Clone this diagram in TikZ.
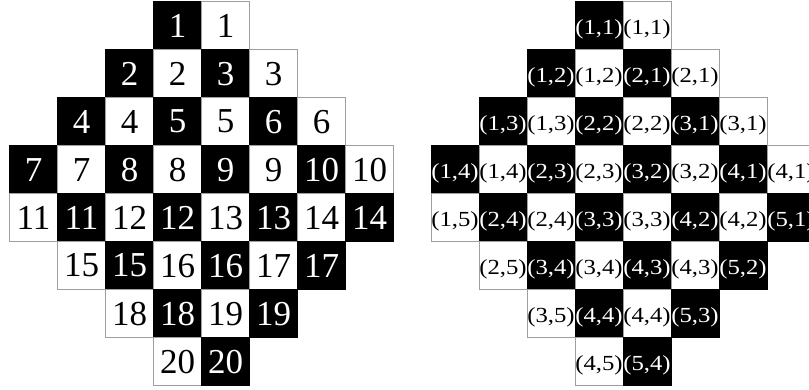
\documentclass[tikz,border=0pt]{standalone}
\usepackage{fontspec}
\setmainfont{Liberation Serif}
\tikzset{
  cellbase/.style={minimum width=48pt, minimum height=48pt, inner sep=0pt, outer sep=0pt, line width=0.8pt},
  cellW/.style={cellbase, draw=gray!75, fill=white, text=black},
  cellB/.style={cellbase, draw=black, fill=black, text=white},
  bigtxt/.style={font=\fontsize{35}{40}\selectfont},
  smalltxt/.style={font=\fontsize{21.5}{24}\selectfont, text height=18pt, text depth=0pt},
}
\newcommand\leftrow[3]{%
  \foreach \n [count=\i from 0] in {#3}{%
    \pgfmathtruncatemacro\cc{#2+\i}%
    \pgfmathtruncatemacro\pp{mod(#1+\cc,2)}%
    \ifnum\pp=1 \def\sty{cellB}\else\def\sty{cellW}\fi
    \node[\sty,bigtxt] (L-#1-\cc) at ({9.6+48*\cc+24},{1.6+48*#1+24}) {\n};
  }}
\newcommand\rightrow[3]{%
  \foreach \a/\b [count=\i from 0] in {#3}{%
    \pgfmathtruncatemacro\cc{#2+\i}%
    \pgfmathtruncatemacro\pp{mod(#1+\cc,2)}%
    \ifnum\pp=1 \def\sty{cellB}\else\def\sty{cellW}\fi
    \node[\sty,smalltxt] (R-#1-\cc) at ({431+48*\cc+24},{1.6+48*#1+24}) {\scalebox{1.15}[1]{(\a,\b)}};
  }}
\begin{document}
\begin{tikzpicture}[x=1pt,y=-1pt]
\path[use as bounding box] (0,0) rectangle (809,390);
\clip (0,0) rectangle (809,390);
% left grid
\leftrow{0}{3}{1,1}
\leftrow{1}{2}{2,2,3,3}
\leftrow{2}{1}{4,4,5,5,6,6}
\leftrow{3}{0}{7,7,8,8,9,9,10,10}
\leftrow{4}{0}{11,11,12,12,13,13,14,14}
\leftrow{5}{1}{15,15,16,16,17,17}
\leftrow{6}{2}{18,18,19,19}
\leftrow{7}{3}{20,20}
% right grid
\rightrow{0}{3}{1/1,1/1}
\rightrow{1}{2}{1/2,1/2,2/1,2/1}
\rightrow{2}{1}{1/3,1/3,2/2,2/2,3/1,3/1}
\rightrow{3}{0}{1/4,1/4,2/3,2/3,3/2,3/2,4/1,4/1}
\rightrow{4}{0}{1/5,2/4,2/4,3/3,3/3,4/2,4/2,5/1}
\rightrow{5}{1}{2/5,3/4,3/4,4/3,4/3,5/2}
\rightrow{6}{2}{3/5,4/4,4/4,5/3}
\rightrow{7}{3}{4/5,5/4}
\end{tikzpicture}
\end{document}
